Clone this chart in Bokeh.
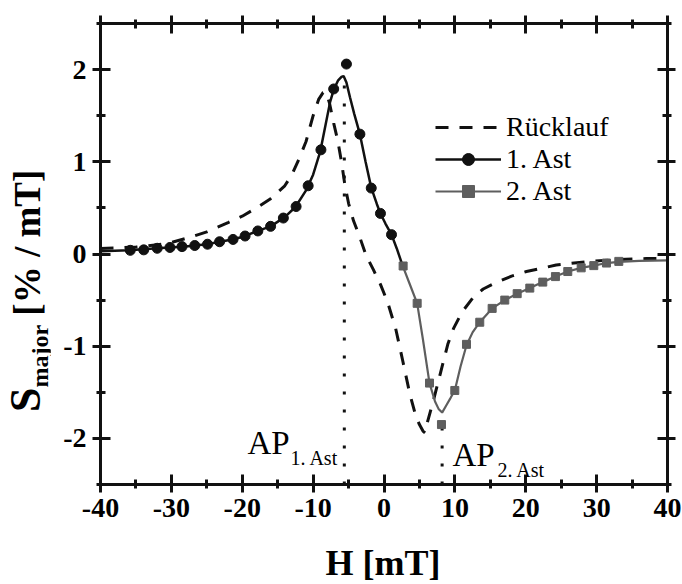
from bokeh.plotting import figure
from bokeh.models import Range1d, LinearAxis, FixedTicker, Legend, LegendItem, Label, Div, Grid
from bokeh.layouts import row, column
from bokeh.embed import file_html
from bokeh.resources import INLINE

# ---------------- data ----------------
# 1. Ast : measured points (circles)
ast1_x = [-35.8, -33.9, -32.0, -30.2, -28.5, -26.7, -24.9, -23.2, -21.3, -19.6, -17.8,
          -16.0, -14.2, -12.4, -10.7, -8.9, -7.1, -5.3, -3.4, -1.8, -0.5, 1.06]
ast1_y = [0.04, 0.045, 0.062, 0.071, 0.08, 0.092, 0.106, 0.133, 0.158, 0.195, 0.25,
          0.30, 0.39, 0.515, 0.74, 1.13, 1.79, 2.06, 1.30, 0.715, 0.44, 0.21]
# 1. Ast : fitted curve
ast1_line_x = [-40, -36, -32, -28, -25, -22, -20, -18, -16, -14, -12.5, -11, -10, -9,
               -8.25, -7.6, -7.1, -6.5, -6.0, -5.7, -5.3, -4.8, -4.2, -3.4, -2.6, -1.8,
               -1.0, -0.5, 0.2, 1.06, 1.8, 2.6]
ast1_line_y = [0.03, 0.04, 0.062, 0.082, 0.106, 0.148, 0.185, 0.245, 0.30, 0.40, 0.51,
               0.69, 0.86, 1.11, 1.40, 1.65, 1.78, 1.88, 1.92, 1.93, 1.86, 1.70, 1.52,
               1.30, 1.00, 0.72, 0.54, 0.44, 0.33, 0.21, 0.06, -0.12]

# 2. Ast : measured points (squares)
ast2_x = [2.7, 4.68, 6.42, 8.11, 9.99, 11.64, 13.51, 15.26, 17.04, 18.79, 20.57,
          22.4, 24.19, 25.93, 27.82, 29.6, 31.39, 33.13]
ast2_y = [-0.13, -0.535, -1.40, -1.85, -1.48, -0.98, -0.74, -0.59, -0.50, -0.43, -0.37,
          -0.305, -0.245, -0.19, -0.15, -0.126, -0.098, -0.08]
# 2. Ast : fitted curve
ast2_line_x = [2.6, 3.6, 4.68, 5.5, 6.42, 7.2, 7.7, 8.2, 8.8, 9.4, 9.99, 10.8, 11.64,
               12.5, 13.51, 15.26, 17.04, 18.79, 20.57, 22.4, 24.19, 25.93, 27.82,
               29.6, 31.39, 33.13, 36, 40]
ast2_line_y = [-0.12, -0.32, -0.535, -0.93, -1.40, -1.60, -1.68, -1.72, -1.64, -1.56,
               -1.48, -1.22, -0.99, -0.85, -0.74, -0.59, -0.50, -0.43, -0.37, -0.305,
               -0.245, -0.19, -0.15, -0.126, -0.098, -0.085, -0.075, -0.07]

# Rücklauf (dashed)
ruck_x = [-40, -38, -35, -32, -30, -27, -25, -22, -20, -18, -16, -14, -13, -12, -11,
          -10, -9.2, -8.6, -8.2, -7.7, -7.1, -6.5, -6.0, -5.5, -5.0, -4.3, -3.5, -2.5,
          -1.5, -0.5, 0.5, 1.65, 2.65, 3.65, 4.5, 5.0, 5.5, 5.8, 6.0, 6.5, 7.0, 7.5,
          8.0, 8.5, 9.0, 9.8, 11.0, 12.7, 14.0, 15.8, 18.0, 20.1, 24.3, 28.4, 32.8,
          37.0, 40]
ruck_y = [0.06, 0.065, 0.075, 0.10, 0.125, 0.19, 0.24, 0.34, 0.41, 0.50, 0.60, 0.74,
          0.86, 1.03, 1.22, 1.50, 1.68, 1.75, 1.76, 1.64, 1.42, 1.22, 1.00, 0.74, 0.55,
          0.36, 0.20, -0.02, -0.17, -0.33, -0.52, -0.81, -1.16, -1.52, -1.76, -1.85,
          -1.92, -1.94, -1.86, -1.72, -1.58, -1.43, -1.28, -1.13, -0.98, -0.81, -0.63,
          -0.46, -0.38, -0.31, -0.24, -0.19, -0.12, -0.085, -0.06, -0.05, -0.045]

# operating points (AP): x position and top end of the dotted marker
ap_x = [-5.6, 8.2]
ap_top = [1.9, -1.85]

x_ticks = [-40, -30, -20, -10, 0, 10, 20, 30, 40]
x_tick_labels = ["-40", "-30", "-20", "-10", "0", "10", "20", "30", "40"]
x_minor = [-35, -25, -15, -5, 5, 15, 25, 35]
y_ticks = [-2, -1, 0, 1, 2]
y_tick_labels = ["-2", "-1", "0", "1", "2"]
y_minor = [-2.5, -1.5, -0.5, 0.5, 1.5, 2.5]

BLACK = "#111111"
GRAY = "#5e5e5e"
SERIF = "Liberation Serif"

# ---------------- figure ----------------
p = figure(frame_width=567, frame_height=461,
           min_border_left=50, min_border_top=23, min_border_right=15, min_border_bottom=55,
           x_range=Range1d(-40, 40), y_range=Range1d(-2.5, 2.5),
           x_axis_location=None, y_axis_location=None,
           output_backend="svg", toolbar_location=None)
p.margin = 0
p.outline_line_color = None
p.background_fill_color = "white"
p.border_fill_color = "white"
for r in list(p.center):
    if isinstance(r, Grid):
        r.visible = False


def make_axis(ticks, minor, labels, show):
    ax = LinearAxis(ticker=FixedTicker(ticks=ticks, minor_ticks=minor))
    ax.axis_line_width = 3
    ax.axis_line_color = BLACK
    ax.major_tick_line_width = 3
    ax.major_tick_line_color = BLACK
    ax.minor_tick_line_width = 3
    ax.minor_tick_line_color = BLACK
    ax.major_tick_in = 10
    ax.major_tick_out = 8
    ax.minor_tick_in = 5
    ax.minor_tick_out = 4
    ax.major_label_overrides = {t: l for t, l in zip(ticks, labels)}
    if show:
        ax.major_label_text_font = SERIF
        ax.major_label_text_font_style = "bold"
        ax.major_label_text_font_size = "28px"
        ax.major_label_text_color = "black"
        ax.major_label_standoff = 6
    else:
        ax.major_label_text_font_size = "1px"
        ax.major_label_text_alpha = 0
        ax.major_label_standoff = 0
    return ax


p.add_layout(make_axis(x_ticks, x_minor, x_tick_labels, True), "below")
p.add_layout(make_axis(x_ticks, x_minor, x_tick_labels, False), "above")
p.add_layout(make_axis(y_ticks, y_minor, y_tick_labels, True), "left")
p.add_layout(make_axis(y_ticks, y_minor, y_tick_labels, False), "right")

# dotted AP markers
p.segment(x0=ap_x, y0=[-2.5] * len(ap_x), x1=ap_x, y1=ap_top,
          line_color=BLACK, line_width=3, line_dash="3 15")

r_ruck = p.line(ruck_x, ruck_y, line_color=BLACK, line_width=3, line_dash="13 11")
r1l = p.line(ast1_line_x, ast1_line_y, line_color=BLACK, line_width=2.5)
r2l = p.line(ast2_line_x, ast2_line_y, line_color=GRAY, line_width=2.2)
r1s = p.scatter(ast1_x, ast1_y, marker="circle", size=10, fill_color=BLACK, line_color=BLACK)
r2s = p.scatter(ast2_x, ast2_y, marker="square", size=8, fill_color=GRAY, line_color=GRAY)

legend = Legend(items=[LegendItem(label="Rücklauf", renderers=[r_ruck]),
                       LegendItem(label="1. Ast", renderers=[r1l, r1s]),
                       LegendItem(label="2. Ast", renderers=[r2l, r2s])],
                location=(335, 277))
legend.label_text_font = SERIF
legend.label_text_font_size = "28px"
legend.label_text_color = "black"
legend.glyph_width = 66
legend.glyph_height = 30
legend.label_height = 30
legend.label_standoff = 5
legend.spacing = 0
legend.padding = 0
legend.margin = 0
legend.border_line_color = None
legend.background_fill_alpha = 0
p.add_layout(legend)


def lab(x, y, text, size):
    p.add_layout(Label(x=x, y=y, text=text, text_font=SERIF, text_font_size=size,
                       text_color="black", text_align="left", text_baseline="alphabetic"))


lab(-19.26, -2.055, "AP", "33px")
lab(-13.19, -2.218, "1. Ast", "20px")
lab(9.66, -2.185, "AP", "33px")
lab(16.01, -2.348, "2. Ast", "20px")

PLOT_H = 23 + 461 + 55
XT_H = 584 - PLOT_H

font_css = ("font-family:'Liberation Serif';font-weight:bold;font-size:37px;"
            "line-height:36px;color:black;white-space:nowrap;")

# y axis title with subscript (rotated HTML text)
ytitle_html = (
    '<div style="position:relative;width:50px;height:' + str(PLOT_H) + 'px;">'
    '<div style="position:absolute;left:8px;top:412px;transform:rotate(-90deg);'
    'transform-origin:0 0;' + font_css + '">'
    '<span style="font-size:44px;">S</span>'
    '<span style="font-size:24px;position:relative;top:8px;">major</span>'
    ' [% / mT]</div></div>')
ytitle = Div(text=ytitle_html, width=50, height=PLOT_H, margin=0)

# x axis title
xtitle_html = (
    '<div style="position:relative;width:682px;height:' + str(XT_H) + 'px;">'
    '<div style="position:absolute;left:383px;top:' + str(575 - 30 - PLOT_H) + 'px;'
    'transform:translateX(-50%);' + font_css.replace("37px", "36px") + '">H [mT]</div></div>')
xtitle = Div(text=xtitle_html, width=682, height=XT_H, margin=0)

layout = column(row(ytitle, p, spacing=0), xtitle, spacing=0)
open("out.html", "w").write(file_html(layout, INLINE))
